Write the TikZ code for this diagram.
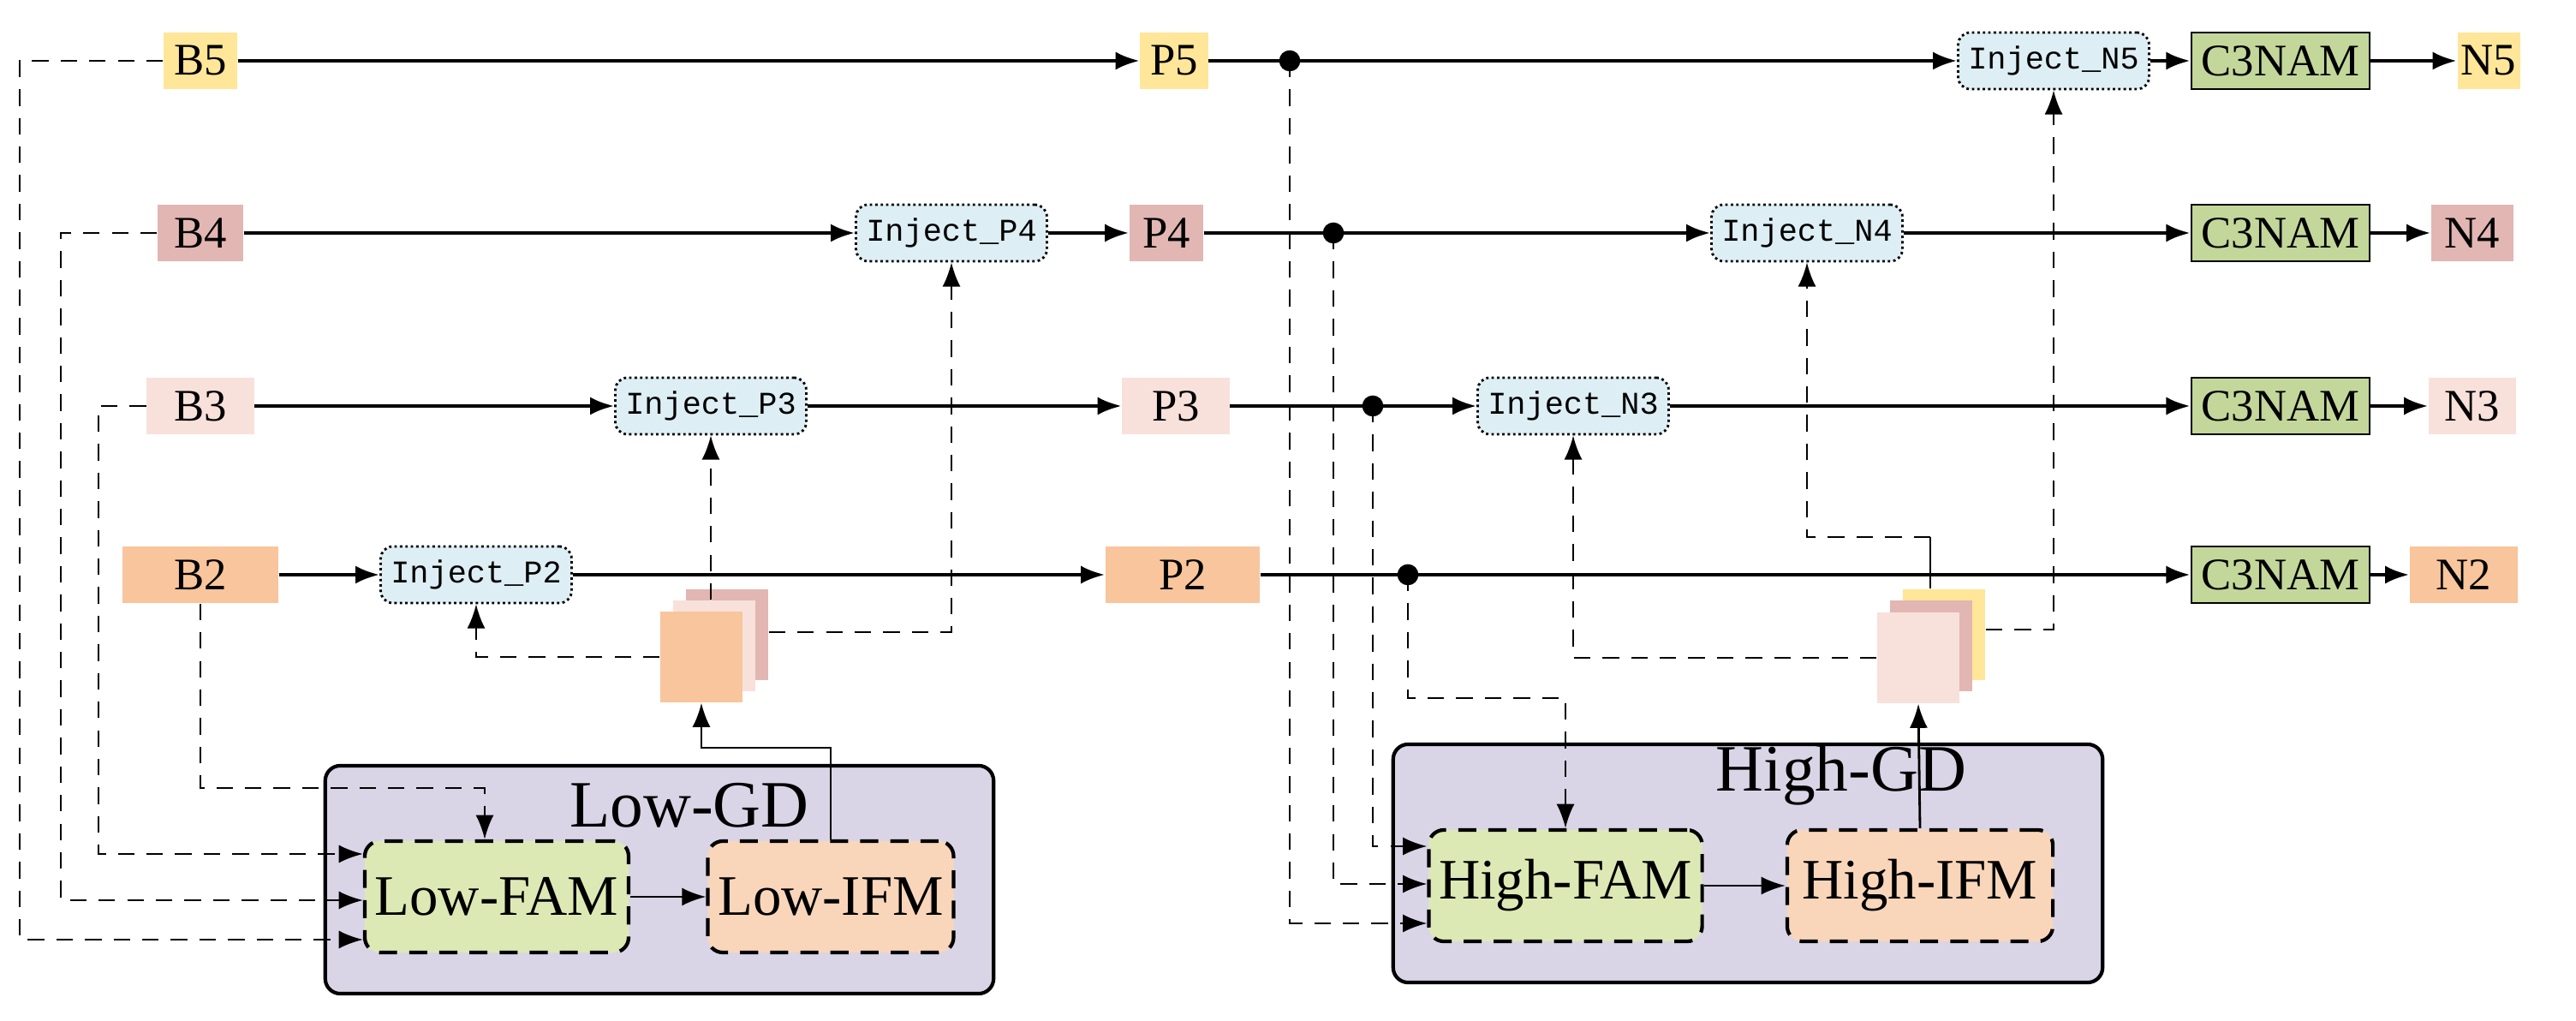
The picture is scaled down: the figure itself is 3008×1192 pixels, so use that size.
\documentclass[tikz,border=0pt]{standalone}
\usepackage{fontspec}
\setmainfont{Liberation Serif}
\newfontfamily\injfont{Liberation Mono}
\usepackage{xcolor}
\usetikzlibrary{positioning,arrows.meta}
\definecolor{cfive}{HTML}{FFE699}
\definecolor{cfour}{HTML}{E2B6B3}
\definecolor{cthree}{HTML}{F8E1DA}
\definecolor{ctwo}{HTML}{F8C59C}
\definecolor{cinj}{HTML}{DDEEF4}
\definecolor{cnam}{HTML}{C4D79B}
\definecolor{cgd}{HTML}{DAD5E6}
\definecolor{cfam}{HTML}{DDE9B5}
\definecolor{cifm}{HTML}{F9D6BA}
\tikzset{
	featnode/.style={rectangle, minimum height=0.66cm, font=\fontsize{15}{15}\selectfont, inner sep=0pt},
	injnode/.style={rectangle, rounded corners=4pt, draw, densely dotted, thick, fill=cinj, minimum width=2.1cm, minimum height=0.66cm, font=\injfont\fontsize{10.5}{10.5}\selectfont},
	namnode/.style={rectangle, draw, thick, fill=cnam, minimum width=1.75cm, minimum height=0.66cm, font=\fontsize{15}{15}\selectfont},
	gdnode/.style={rectangle, rounded corners=5pt, draw, very thick, fill=cgd},
	modnode/.style={rectangle, rounded corners=5pt, draw, very thick, dash pattern=on 6pt off 4pt, minimum width=2.8cm, minimum height=1.3cm, font=\fontsize{19}{19}\selectfont},
	sqnode/.style={rectangle, minimum width=0.96cm, minimum height=1.06cm, inner sep=0pt},
	mydashed/.style={dash pattern=on 5.5pt off 4pt},
	flow/.style={-{Latex[length=8pt,width=6pt]}, very thick},
	side/.style={-{Latex[length=8pt,width=6pt]}, thick, mydashed}
}
\begin{document}
\begin{tikzpicture}[x=0.01cm, y=-0.01cm]
	\useasboundingbox (0,0) rectangle (3008,1192);
	% backbone features
	\node[featnode, fill=cfive, minimum width=0.86cm] at (234,71) (b5) {B5};
	\node[featnode, fill=cfour, minimum width=1.0cm] at (234,272) (b4) {B4};
	\node[featnode, fill=cthree, minimum width=1.25cm] at (234,474) (b3) {B3};
	\node[featnode, fill=ctwo, minimum width=1.82cm] at (234,671) (b2) {B2};
	% inject nodes
	\node[injnode] at (556,671) (ip2) {Inject\_P2};
	\node[injnode] at (830,474) (ip3) {Inject\_P3};
	\node[injnode] at (1111,272) (ip4) {Inject\_P4};
	\node[injnode] at (1837,474) (in3) {Inject\_N3};
	\node[injnode] at (2110,272) (in4) {Inject\_N4};
	\node[injnode] at (2398,71) (in5) {Inject\_N5};
	% P features
	\node[featnode, fill=cfive, minimum width=0.79cm] at (1371,71) (p5) {P5};
	\node[featnode, fill=cfour, minimum width=0.86cm] at (1362,272) (p4) {P4};
	\node[featnode, fill=cthree, minimum width=1.25cm] at (1373,474) (p3) {P3};
	\node[featnode, fill=ctwo, minimum width=1.8cm] at (1381,671) (p2) {P2};
	% outputs
	\node[namnode] at (2663,71) (c5) {C3NAM};
	\node[namnode] at (2663,272) (c4) {C3NAM};
	\node[namnode] at (2663,474) (c3) {C3NAM};
	\node[namnode] at (2663,671) (c2) {C3NAM};
	\node[featnode, fill=cfive, minimum width=0.73cm] at (2906,71) (n5) {N5};
	\node[featnode, fill=cfour, minimum width=0.96cm] at (2887,272) (n4) {N4};
	\node[featnode, fill=cthree, minimum width=1.02cm] at (2887,474) (n3) {N3};
	\node[featnode, fill=ctwo, minimum width=1.26cm] at (2877,671) (n2) {N2};
	% gather-distribute blocks
	\node[gdnode, minimum width=7.8cm, minimum height=2.66cm] at (770,1027) (lgd) {};
	\node[gdnode, minimum width=8.28cm, minimum height=2.78cm] at (2041,1008) (hgd) {};
	\node[font=\fontsize{22}{22}\selectfont] at (805,940) (lgdt) {Low-GD};
	\node[font=\fontsize{22}{22}\selectfont] at (2150,905) (hgdt) {High-GD};
	\node[modnode, fill=cfam] at (580,1047) (lfam) {Low-FAM};
	\node[modnode, fill=cifm] at (970,1047) (lifm) {Low-IFM};
	\node[modnode, fill=cfam, minimum width=2.96cm] at (1828,1034) (hfam) {High-FAM};
	\node[modnode, fill=cifm, minimum width=3.1cm] at (2242,1034) (hifm) {High-IFM};
	% stacked features
	\node[sqnode, fill=cfour] at (849,741) (ls3) {};
	\node[sqnode, fill=cthree] at (834,754) (ls2) {};
	\node[sqnode, fill=ctwo] at (819,767) (ls1) {};
	\node[sqnode, fill=cfive] at (2270,741) (hs3) {};
	\node[sqnode, fill=cfour] at (2255,754) (hs2) {};
	\node[sqnode, fill=cthree] at (2240,768) (hs1) {};
	% taps
	\coordinate (t5) at (1506,71);
	\coordinate (t4) at (1557,272);
	\coordinate (t3) at (1603,474);
	\coordinate (t2) at (1644,671);
	\foreach \t in {t5,t4,t3,t2} \fill (\t) circle (3.5pt);
	% main rows
	\draw[flow] (b5) -- (p5);
	\draw[flow] (p5) -- (in5);
	\draw[flow] (in5) -- (c5);
	\draw[flow] (c5) -- (n5);
	\draw[flow] (b4) -- (ip4);
	\draw[flow] (ip4) -- (p4);
	\draw[flow] (p4) -- (in4);
	\draw[flow] (in4) -- (c4);
	\draw[flow] (c4) -- (n4);
	\draw[flow] (b3) -- (ip3);
	\draw[flow] (ip3) -- (p3);
	\draw[flow] (p3) -- (in3);
	\draw[flow] (in3) -- (c3);
	\draw[flow] (c3) -- (n3);
	\draw[flow] (b2) -- (ip2);
	\draw[flow] (ip2) -- (p2);
	\draw[flow] (p2) -- (c2);
	\draw[flow] (c2) -- (n2);
	% low branch
	\draw[side] (b5.west) -| (23,1097) -- (lfam.west |- 0,1097);
	\draw[side] (b4.west) -| (71,1051) -- (lfam.west |- 0,1051);
	\draw[side] (b3.west) -| (115,997) -- (lfam.west |- 0,997);
	\draw[side] (b2.south) |- (566,920) -- (lfam.north -| 566,0);
	\draw[flow, thick] (lfam) -- (lifm);
	\draw[flow, thick] (lifm.north) |- (819,873) -- (ls1.south);
	\draw[side] (ls1.west) -| (ip2.south);
	\draw[side] (ls2.north -| 830,0) -- (ip3.south);
	\draw[side] (ls3.east |- 0,738) -| (ip4.south);
	% high branch
	\draw[side] (t5) |- (hfam.west |- 0,1078);
	\draw[side] (t4) |- (hfam.west |- 0,1032);
	\draw[side] (t3) |- (hfam.west |- 0,988);
	\draw[side] (t2) |- (1828,815) -- (hfam.north);
	\draw[flow, thick] (hfam) -- (hifm);
	\draw[flow, thick] (hifm.north) -- (hs1.south);
	\draw[side] (hs1.west) -| (in3.south);
	\draw[thick] (hs3.north -| 2254,0) -- (2254,627);
	\draw[side] (2254,627) -| (in4.south);
	\draw[side] (hs3.east |- 0,735) -| (in5.south);
\end{tikzpicture}
\end{document}
